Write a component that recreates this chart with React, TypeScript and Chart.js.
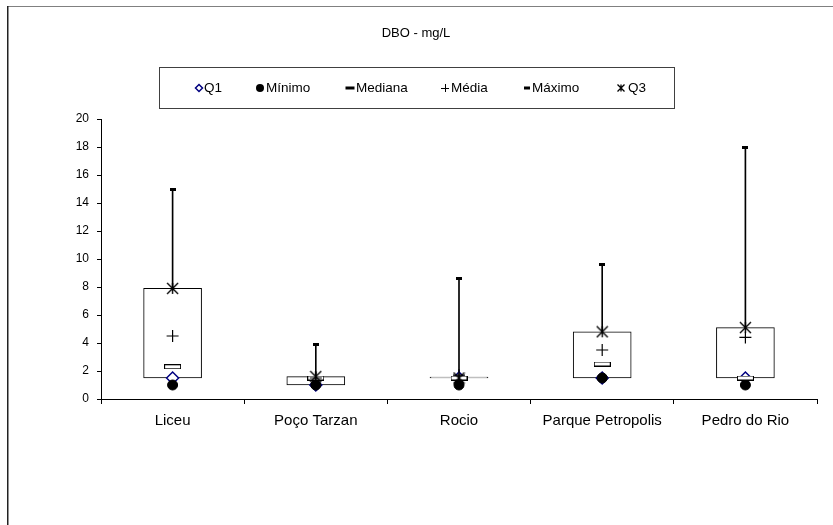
import React, { useEffect, useRef } from "react";
import { Chart, registerables } from "chart.js";

Chart.register(...registerables);

// ---- Data ----
const categories = ["Liceu", "Poço Tarzan", "Rocio", "Parque Petropolis", "Pedro do Rio"];
const q1 = [1.5, 1.0, 1.5, 1.5, 1.5];
const minimo = [1.0, 1.0, 1.0, 1.5, 1.0];
const mediana = [2.3, 1.5, 1.5, 2.5, 1.5];
const media = [4.5, 1.5, 1.7, 3.5, 4.4];
const maximo = [15.0, 3.9, 8.6, 9.6, 18.0];
const q3 = [7.9, 1.6, 1.5, 4.8, 5.1];
const yTicks = [0, 2, 4, 6, 8, 10, 12, 14, 16, 18, 20];
const title = "DBO - mg/L";
const legendLabels = ["Q1", "Mínimo", "Mediana", "Média", "Máximo", "Q3"];

const FONT = "'Liberation Sans', Arial, sans-serif";

function rectImage(w: number, h: number, fill: string, stroke?: string) {
  const c = document.createElement("canvas");
  c.width = w;
  c.height = h;
  const ctx = c.getContext("2d")!;
  ctx.fillStyle = fill;
  ctx.fillRect(0, 0, w, h);
  if (stroke) {
    ctx.strokeStyle = stroke;
    ctx.lineWidth = 1;
    ctx.strokeRect(0.5, 0.5, w - 1, h - 1);
  }
  return c;
}

function drawStar(ctx: CanvasRenderingContext2D, x: number, y: number, r: number) {
  ctx.beginPath();
  ctx.moveTo(x - r, y - r);
  ctx.lineTo(x + r, y + r);
  ctx.moveTo(x + r, y - r);
  ctx.lineTo(x - r, y + r);
  ctx.moveTo(x, y - r);
  ctx.lineTo(x, y + r);
  ctx.stroke();
}

function starImage(size: number, lw: number) {
  const c = document.createElement("canvas");
  c.width = size;
  c.height = size;
  const ctx = c.getContext("2d")!;
  ctx.strokeStyle = "#000";
  ctx.lineWidth = lw;
  const h = size / 2;
  drawStar(ctx, h, h, h - 1);
  return c;
}

const framePlugin = {
  id: "frameTitleLegend",
  beforeDraw(chart: any) {
    const ctx = chart.ctx as CanvasRenderingContext2D;
    ctx.save();
    ctx.fillStyle = "#fff";
    ctx.fillRect(0, 0, chart.width, chart.height);
    ctx.restore();
  },
  afterDraw(chart: any) {
    const ctx = chart.ctx as CanvasRenderingContext2D;
    ctx.save();
    // outer frame (top and left)
    ctx.fillStyle = "#808080";
    ctx.fillRect(7, 6, chart.width - 7, 1);
    ctx.fillStyle = "#222";
    ctx.fillRect(7, 6, 1.5, chart.height - 6);

    // title
    ctx.fillStyle = "#000";
    ctx.font = `13px ${FONT}`;
    ctx.textAlign = "center";
    ctx.textBaseline = "middle";
    ctx.fillText(title, 416, 33);

    // legend box
    ctx.strokeStyle = "#404040";
    ctx.lineWidth = 1;
    ctx.strokeRect(159.5, 67.5, 515, 41);

    const ly = 88;
    const markerX = [199, 260, 350, 445, 527, 621];
    const textX = [204, 266, 356, 451, 532, 628];
    ctx.font = `13.5px ${FONT}`;
    ctx.textAlign = "left";
    legendLabels.forEach((lab, i) => {
      const mx = markerX[i];
      ctx.save();
      if (i === 0) {
        ctx.strokeStyle = "#000080";
        ctx.lineWidth = 1.5;
        ctx.beginPath();
        ctx.moveTo(mx, ly - 3.5);
        ctx.lineTo(mx + 3.5, ly);
        ctx.lineTo(mx, ly + 3.5);
        ctx.lineTo(mx - 3.5, ly);
        ctx.closePath();
        ctx.stroke();
      } else if (i === 1) {
        ctx.fillStyle = "#000";
        ctx.beginPath();
        ctx.arc(mx, ly, 4, 0, Math.PI * 2);
        ctx.fill();
      } else if (i === 2) {
        ctx.fillStyle = "#000";
        ctx.fillRect(mx - 4.5, ly - 1.5, 9, 3);
      } else if (i === 3) {
        ctx.strokeStyle = "#000";
        ctx.lineWidth = 1;
        ctx.beginPath();
        ctx.moveTo(mx - 4, ly + 0.5);
        ctx.lineTo(mx + 4, ly + 0.5);
        ctx.moveTo(mx + 0.5, ly - 4);
        ctx.lineTo(mx + 0.5, ly + 4);
        ctx.stroke();
      } else if (i === 4) {
        ctx.fillStyle = "#000";
        ctx.fillRect(mx - 3, ly - 1.5, 6, 3);
      } else {
        ctx.strokeStyle = "#000";
        ctx.lineWidth = 1.3;
        drawStar(ctx, mx, ly, 3.5);
      }
      ctx.restore();
      ctx.fillStyle = "#000";
      ctx.textBaseline = "middle";
      ctx.fillText(lab, textX[i], ly);
    });
    ctx.restore();
  },
};

export default function App() {
  const ref = useRef<HTMLCanvasElement | null>(null);

  useEffect(() => {
    document.body.style.margin = "0";
    const canvas = ref.current!;
    const medImg = rectImage(17, 5, "#fff", "#000");
    const maxImg = rectImage(6, 3, "#000");
    const stImg = starImage(13, 1.4);

    const chart = new Chart(canvas, {
      data: {
        labels: categories,
        datasets: [
          {
            type: "line",
            label: "Q3",
            data: q3,
            showLine: false,
            pointStyle: stImg as any,
          },
          {
            type: "line",
            label: "Média",
            data: media,
            showLine: false,
            pointStyle: "cross",
            pointRadius: 6,
            pointBorderColor: "#000",
            pointBorderWidth: 1.2,
          },
          {
            type: "line",
            label: "Máximo",
            data: maximo,
            showLine: false,
            pointStyle: maxImg as any,
          },
          {
            type: "line",
            label: "Mediana",
            data: mediana,
            showLine: false,
            pointStyle: medImg as any,
          },
          {
            type: "line",
            label: "Mínimo",
            data: minimo,
            showLine: false,
            pointStyle: "circle",
            pointRadius: 5,
            pointBorderColor: "#000",
            pointBackgroundColor: "#000",
            pointBorderWidth: 1,
          },
          {
            type: "line",
            label: "Q1",
            data: q1,
            showLine: false,
            pointStyle: "rectRot",
            pointRadius: 6,
            pointBorderColor: "#000080",
            pointBackgroundColor: "#fff",
            pointBorderWidth: 1.5,
          },
          {
            type: "bar",
            label: "box",
            data: categories.map((_, i) => [q1[i], q3[i]]) as any,
            backgroundColor: "#fff",
            borderColor: "#000",
            borderWidth: 1,
            borderSkipped: false,
            barThickness: 58,
            minBarLength: 1,
            grouped: false,
          } as any,
          {
            type: "bar",
            label: "whisker",
            data: categories.map((_, i) => [minimo[i], maximo[i]]) as any,
            backgroundColor: "#000",
            borderWidth: 0,
            barThickness: 1,
            grouped: false,
          } as any,
        ],
      },
      options: {
        responsive: false,
        animation: false,
        layout: { padding: { top: 119, right: 16, bottom: 0, left: 0 } },
        plugins: {
          legend: { display: false },
          title: { display: false },
          tooltip: { enabled: false },
        },
        scales: {
          x: {
            type: "category",
            offset: true,
            grid: {
              display: true,
              drawOnChartArea: false,
              offset: true,
              tickLength: 5,
              color: "#000",
            },
            border: { color: "#000", width: 1 },
            ticks: {
              font: { family: FONT, size: 15 },
              color: "#000",
              padding: 8,
              maxRotation: 0,
              autoSkip: false,
            },
            afterFit: (s: any) => {
              s.height = 126;
            },
          },
          y: {
            type: "linear",
            min: 0,
            max: 20,
            afterBuildTicks: (s: any) => {
              s.ticks = yTicks.map((v) => ({ value: v }));
            },
            ticks: {
              font: { family: FONT, size: 12 },
              color: "#000",
              padding: 8,
            },
            grid: { drawOnChartArea: false, tickLength: 4, color: "#000" },
            border: { color: "#000", width: 1 },
            afterFit: (s: any) => {
              s.width = 101;
            },
          },
        },
      },
      plugins: [framePlugin],
    } as any);

    return () => chart.destroy();
  }, []);

  return (
    <div style={{ width: 833, height: 525 }}>
      <canvas ref={ref} width={833} height={525} style={{ display: "block" }} />
    </div>
  );
}
